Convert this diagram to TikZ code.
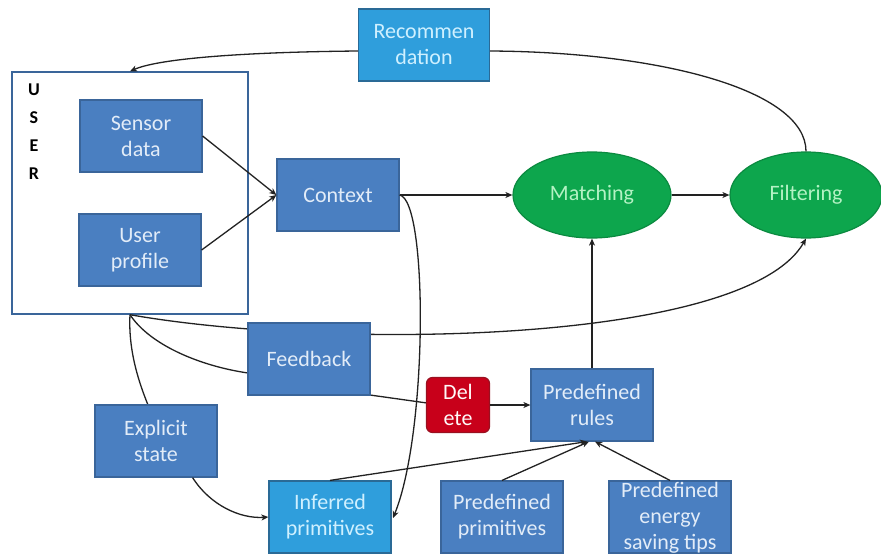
\documentclass[tikz,border=0pt]{standalone}
\usepackage{fontspec}
\setmainfont{Carlito}
\usetikzlibrary{shapes.geometric,arrows.meta,calc}

\definecolor{boxblue}{HTML}{4A7FC1}
\definecolor{boxedge}{HTML}{3A659A}
\definecolor{skyblue}{HTML}{2F9EDC}
\definecolor{skyedge}{HTML}{2A6A96}
\definecolor{ovalgreen}{HTML}{0DA64D}
\definecolor{ovaledge}{HTML}{0B8A40}
\definecolor{ovaltext}{HTML}{B4F2C4}
\definecolor{delred}{HTML}{C8001A}
\definecolor{deledge}{HTML}{9A1020}
\definecolor{boxtext}{HTML}{E2ECF8}
\definecolor{skytext}{HTML}{CFF0FF}
\definecolor{linecol}{HTML}{222222}

\tikzset{
  x=1pt, y=-1pt,
  lbl/.style={font=\fontsize{22}{26}\selectfont, align=center, inner sep=0pt},
  stepbox/.style={lbl, rectangle, fill=boxblue, draw=boxedge, line width=1.2pt,
    text=boxtext, minimum width=122pt, minimum height=72pt},
  skybox/.style={stepbox, fill=skyblue, draw=skyedge, text=skytext},
  oval/.style={lbl, ellipse, fill=ovalgreen, draw=ovaledge, line width=1.2pt,
    text=ovaltext, minimum height=86pt},
  delbox/.style={lbl, rectangle, rounded corners=6pt, fill=delred, draw=deledge,
    line width=1.2pt, text=white!90!pink, minimum width=63pt, minimum height=55pt},
  conn/.style={draw=linecol, line width=1.3pt},
  arr/.style={conn, -{Stealth[length=7pt,width=6pt,inset=2pt]}},
}

\begin{document}
\begin{tikzpicture}
\useasboundingbox[fill=white] (0,0) rectangle (881,555);

% user frame with its vertical label
\node[rectangle, draw=boxedge, line width=1.4pt, minimum width=236pt,
      minimum height=242pt] (user) at (130,193) {};
\node[font=\fontsize{18}{28}\selectfont\bfseries, align=center, inner sep=0pt,
      anchor=north] (userlbl) at (34,84) {U\\S\\E\\R};

% boxes
\node[stepbox] (sensor)  at (141,136) {Sensor\\data};
\node[stepbox] (profile) at (140,250) {User\\profile};
\node[stepbox] (context) at (338,195) {Context};
\node[skybox, minimum width=131pt] (rec) at (424,45) {Recommen\\dation};
\node[oval, minimum width=158pt] (match)  at (592,195) {Matching};
\node[oval, minimum width=152pt] (filter) at (806,195) {Filtering};

% lower part: the connectors that run behind boxes go first
\coordinate (userfoot) at (user.south);
\draw[arr] (userfoot) .. controls (330,350) and (745,345) .. (filter.south);
\draw[conn] (userfoot) .. controls (150,345) and (200,366) .. (248,373);
\draw[conn] (userfoot) .. controls (128,352) and (140,385) .. (148,405);
\draw[conn] (370,395) -- (427,403);
\draw[arr] (context.east) .. controls (428,200) and (428,432) .. (393,518);

\node[stepbox] (feedback) at (309,359) {Feedback};
\node[delbox]  (del)      at (458,405) {Del\\ete};
\node[stepbox] (rules)    at (592,405) {Predefined\\rules};
\node[stepbox] (explicit) at (156,441) {Explicit\\state};
\node[skybox]  (inferred) at (330,517) {Inferred\\primitives};
\node[stepbox] (predprim) at (502,517) {Predefined\\primitives};
\node[stepbox] (tips) at (670,517) {};
\node[lbl, text=boxtext, anchor=north] (tipstext) at (670,482)
  {Predefined\\energy\\saving tips};

% connectors
\draw[arr] (sensor.east)  -- (context.west);
\draw[arr] (profile.east) -- (context.west);
\draw[arr] (context.east) -- (match.west);
\draw[arr] (match.east)   -- (filter.west);
\draw[conn] (filter.north) .. controls (806,90) and (660,52) .. ($(rec.east)+(0,6)$);
\draw[arr] ($(rec.west)+(0,6)$) .. controls (250,52) and (160,58) .. (user.north);
\draw[arr] (del.east) -- (rules.west);
\draw[arr] (rules.north) -- (match.south);
\draw[arr] (explicit.south east) ++(-25,0) coordinate (exfoot)
      (exfoot) .. controls (210,505) and (240,519) .. (inferred.west);
\draw[arr] (inferred.north) -- ($(rules.south)+(-5,0)$);
\draw[arr] (predprim.north) -- ($(rules.south)+(-3,0)$);
\draw[arr] (tips.north) -- ($(rules.south)+(3,0)$);
\end{tikzpicture}
\end{document}
